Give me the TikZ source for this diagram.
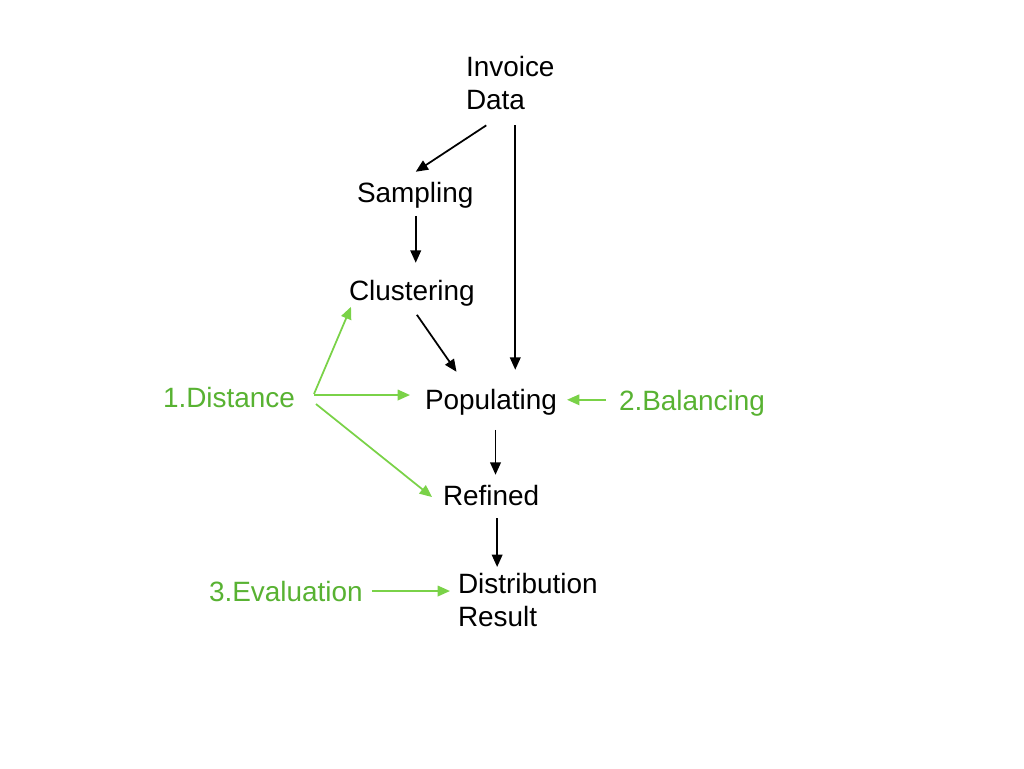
\documentclass[tikz,border=0pt]{standalone}
\usepackage{fontspec}
\setmainfont{Liberation Sans}
\usetikzlibrary{arrows.meta, calc}
\definecolor{stepgreen}{RGB}{88,178,50}
\definecolor{linkgreen}{RGB}{122,210,72}
\tikzset{
  stage/.style={
    inner sep=0pt, outer sep=0pt,
    font=\fontsize{15.9}{18.7}\selectfont
  },
  hint/.style={stage, text=stepgreen},
  flow/.style={->, line width=1pt, black},
  aid/.style={->, line width=1pt, linkgreen}
}

\begin{document}
\begin{tikzpicture}[x=0.02cm, y=-0.02cm, >={Triangle[length=7pt, width=6pt]}]
          \useasboundingbox (0,0) rectangle (1024,768);

          \node[stage, anchor=north west, align=left] (invoice) at (466,56) {Invoice\\Data};
          \node[stage, anchor=base west] (sampling) at (357,202) {Sampling};
          \node[stage, anchor=base west] (clustering) at (349,300) {Clustering};
          \node[stage, anchor=base west] (populating) at (425,409) {Populating};
          \node[stage, anchor=base west] (refined) at (443,505) {Refined};
          \node[stage, anchor=north west, align=left] (result) at (458,573) {Distribution\\Result};

          \node[hint, anchor=base west] (distance) at (163,407) {1.Distance};
          \node[hint, anchor=base west] (balancing) at (619,410) {2.Balancing};
          \node[hint, anchor=base west] (evaluation) at (209,601) {3.Evaluation};

          % main pipeline
          \draw[flow] ($(invoice.south)+(-24,16)$) -- ($(sampling.north)+(0.5,-10)$);
          \draw[flow] ($(invoice.south)+(5,16)$) -- ($(invoice.south |- populating.north)+(5,-19)$);
          \draw[flow] ($(sampling.south)+(0.5,8)$) -- ($(sampling.south |- clustering.north)+(0.5,-17)$);
          \draw[flow] ($(clustering.south)+(5,9)$) -- ($(populating.north)+(-34.5,-17)$);
          \draw[flow] ($(populating.south)+(4.5,15)$) -- ($(populating.south |- refined.north)+(4.5,-10)$);
          \draw[flow] ($(refined.south)+(6,13)$) -- ($(refined.south |- result.north)+(6,-6)$);

          % steps
          \draw[aid] ($(distance.east)+(19,-3)$) -- ($(clustering.south west)+(2,1)$);
          \draw[aid] ($(distance.east)+(19,-2)$) -- ($(distance.east -| populating.west)+(-15,-2)$);
          \draw[aid] ($(distance.east)+(21,7)$) -- ($(refined.west)+(-11,2)$);
          \draw[aid] ($(balancing.west)+(-13,-3)$) -- ($(balancing.west -| populating.east)+(10,-3)$);
          \draw[aid] ($(evaluation.east)+(9,0)$) -- ($(evaluation.east -| result.west)+(-8,0)$);
        \end{tikzpicture}
\end{document}
